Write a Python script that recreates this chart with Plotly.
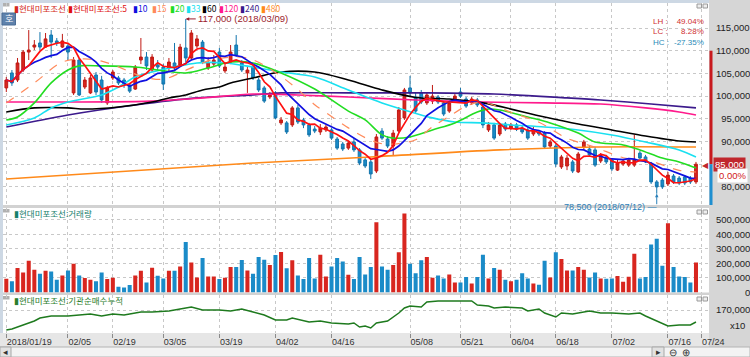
import plotly.graph_objects as go
import pandas as pd

# ---------------- data ----------------
day_idx = list(range(124))  # trading-day index, 2018/01/19 .. 2018/07/23

opens = [101800,105100,103550,105750,109700,110800,111700,110800,113450,112150,
         110800,111050,100700,107950,102000,100700,104650,103550,98500,104000,
         104000,103550,102450,101550,107950,108600,105750,106850,106400,106200,
         107300,106850,110600,108400,111050,111900,106200,107050,109700,105550,
         107500,111250,107300,105100,106400,103550,101800,99800,100700,94100,
         94100,93650,97400,94750,93650,92750,92100,92550,92550,90550,
         89450,88550,89900,88150,85950,85500,83500,92300,90550,89000,
         92300,95200,101800,99800,100700,98500,98900,99800,98500,96700,
         99150,100900,99350,98500,99150,97600,92550,93650,91650,93850,
         92950,93650,92950,92550,91650,92100,91850,89000,89000,84400,
         84600,85500,83300,88800,88350,88150,85700,86600,85950,83700,
         85050,84800,84800,87450,86600,85050,81100,81500,80650,82400,
         81950,82200,81950,81100]
highs = [104200,105750,108400,110150,114550,112350,114100,113900,114550,112800,
         113700,111500,108600,108400,104200,104650,105300,104450,102250,105750,
         104450,104000,102900,106850,112800,109700,109250,107950,107050,108400,
         111700,111500,117000,114550,113450,112350,108600,109050,110600,107050,
         111250,113450,107950,106650,107050,104000,102250,100900,101100,95400,
         94500,97800,98050,95200,94100,93400,93850,93650,92950,91000,
         89900,90100,90750,88550,86350,85950,91650,92950,91200,92550,
         97600,101800,104450,100700,101350,100900,102450,100250,98900,98900,
         100450,101800,99800,99800,99600,98250,94300,94100,94100,94300,
         94100,94100,93400,92950,93200,92550,92300,90350,89450,87050,
         87050,85950,87700,90350,89000,88800,87450,87050,86350,85950,
         86150,86350,91500,87900,87050,85500,81500,81950,83300,82850,
         82400,82600,82400,85500]
lows = [100900,102250,103100,105300,107950,110150,110150,110600,108400,111050,
        110600,107950,100250,100000,101550,100450,100250,98500,98050,103550,
        102450,101800,100700,101350,107050,105750,105300,105750,101350,105300,
        105750,106400,107500,107950,110600,107050,105750,106650,106200,105100,
        107050,108600,105300,100700,103550,100900,98500,99350,94950,93650,
        91650,93200,93850,92950,91000,91850,91450,92100,90350,88150,
        87900,88150,87700,84800,84150,81750,83050,90350,88550,86800,
        91850,94750,100000,96300,98250,98050,98250,98250,95600,96300,
        98700,99600,97400,98050,97600,92950,92100,90350,91200,92300,
        92550,92300,91650,90350,91200,91200,88350,88550,84400,83950,
        83700,83050,83050,88350,86600,84400,85250,85050,83500,83500,
        84600,84400,84400,85950,85250,80650,78500,79550,80200,80650,
        80400,80400,80650,80650]
closes = [103550,102900,107300,109700,110150,111250,110800,112600,111900,111700,
          112150,109700,107950,100250,103550,104000,100900,99150,101800,105300,
          102900,102450,101100,106400,108600,106650,108600,106400,102650,107500,
          106200,110800,108400,113900,112600,107500,107300,107950,106650,106400,
          109700,109050,105750,105750,104000,101350,98900,100250,95200,94750,
          92100,97400,94300,93650,91450,92300,92950,93200,90750,88550,
          88350,89650,88150,85250,84600,82850,91000,90750,89000,91850,
          96950,101350,100700,96700,98700,100250,100000,98700,96050,98500,
          100000,100000,97800,99350,98050,93650,93650,90750,93650,92750,
          93650,92750,92100,90750,92550,91650,88800,89900,85050,86600,
          86350,83500,87250,89900,87050,84800,87050,85500,83950,85250,
          85700,85950,85950,86350,85500,81100,80000,80000,82600,81100,
          80850,80850,81100,85000]
volumes = [94000,78000,168000,138000,218000,156000,129000,149000,145000,87000,
           117000,152000,198000,117000,99000,87000,78000,138000,92000,101000,
           39000,34000,51000,117000,149000,69000,170000,115000,97000,149000,
           149000,179000,347000,207000,103000,237000,110000,110000,92000,101000,
           175000,175000,223000,152000,129000,244000,225000,189000,257000,278000,
           166000,221000,117000,92000,237000,97000,260000,110000,179000,237000,
           214000,122000,92000,244000,124000,175000,483000,179000,156000,189000,
           276000,543000,198000,133000,221000,244000,101000,117000,97000,124000,
           69000,69000,106000,62000,106000,260000,97000,168000,156000,87000,
           78000,87000,133000,97000,62000,53000,218000,103000,276000,230000,
           152000,152000,175000,156000,103000,138000,97000,94000,97000,113000,
           74000,108000,267000,97000,106000,330000,369000,184000,476000,175000,
           110000,106000,69000,207000]

# moving-average lines (day index, value)
ma15_idx = [0,5,10,14,17,20,24,28,32,37,43,48,52,55,58,61,64,67,70,73,76,79,82,85,90,95,100,105,110,115,120,123]
ma15_val = [98500,102900,107500,108200,107700,106450,104400,103700,105700,108100,108400,105200,101450,98100,
            95500,93000,90850,89500,89550,90400,93230,95550,97780,98650,96430,94230,90710,88750,86430,85640,83640,83280]
ma20_idx = [0,2,5,8,11,13,17,23,27,32,36,40,44,49,55,61,64,67,69,72,76,80,84,86,88,93,97,102,105,110,113,117,120,123]
ma20_val = [94750,95400,98500,102900,105750,106650,106650,106400,105750,105100,106200,107500,107300,105100,101550,
            96700,94750,91450,90750,91000,92550,94100,96500,97150,96950,95400,94100,91850,89900,89250,88150,86350,85500,84150]
ma33_idx = [0,5,8,11,17,20,23,26,30,34,39,44,49,55,61,67,71,76,80,85,90,96,102,108,114,120,123]
ma33_val = [93650,95200,97400,98700,100250,102000,104200,105300,106400,107300,107300,106400,105300,104200,101350,
            98500,96950,95200,94300,94100,93650,93200,92550,91450,89900,88150,86600]
ma60_idx = [0,5,11,14,20,26,29,32,35,38,40,44,49,55,61,67,73,79,85,96,102,108,114,120,123]
ma60_val = [96500,97400,97400,97150,97600,98700,99600,100250,101350,102000,102900,104000,105300,105300,103550,
            101350,99700,99350,98500,95400,93850,92550,91200,90100,89900]
ma120_idx = [0,26,35,44,52,61,73,85,96,106,114,120,123]
ma120_val = [98700,98900,99600,100450,100250,99800,99150,98700,98500,98250,97400,96500,95850]
ma240_idx = [0,11,23,34,44,49,61,75,87,100,106,115,123]
ma240_val = [93200,95850,98050,99600,100250,100700,100700,100700,100450,99600,99150,98250,97400]
ma480_idx = [0,44,65,88,105,123]
ma480_val = [81750,85250,86600,88150,88800,88800]

# 기관순매수누적 (x10)
inst_idx = [0,1,3,5,6,8,11,13,15,17,19,21,24,26,29,31,33,35,38,40,42,44,46,48,50,51,54,56,58,61,
            62,63,64,65,66,68,69,70,71,72,74,75,77,81,83,84,86,87,89,92,93,95,96,98,99,101,104,106,108,111,
            113,114,117,118,120,122,123]
inst_val = [130000,132000,140000,148000,154000,158000,158000,160000,162000,158000,162000,160000,166000,166000,
            168000,172000,176000,170000,170000,168000,172000,166000,160000,150000,150000,154000,146000,148000,
            144000,142000,144000,136000,138000,134000,144000,148000,156000,164000,174000,178000,176000,186000,
            188000,188000,188000,180000,178000,174000,176000,174000,168000,172000,164000,156000,164000,162000,
            168000,164000,164000,162000,164000,158000,144000,138000,140000,140000,146000]

date_tick_idx = [0, 11, 19, 28, 38, 48, 58, 72, 81, 90, 98, 108, 118, 124]
date_tick_text = ["2018/01/19", "02/05", "02/19", "03/05", "03/19", "04/02", "04/16",
                  "05/08", "05/21", "06/04", "06/18", "07/02", "07/16", "07/24"]
price_ticks = [80000, 85000, 90000, 95000, 100000, 105000, 110000, 115000]
volume_ticks = [0, 100000, 200000, 300000, 400000, 500000]
inst_ticks = [170000]

high_val, high_day, high_date = 117000, 32, "2018/03/09"
low_val, low_day, low_date = 78500, 116, "2018/07/12"
last_close = 85000
stats = [("LH", "49.04%"), ("LC", "8.28%"), ("HC", "-27.35%")]
name = "현대미포조선"
ma_periods = ["5", "10", "15", "20", "33", "60", "120", "240", "480"]

# ---------------- styling / layout geometry ----------------
W, H = 750, 357
ML, MR, MT, MB = 3, 41, 3, 24
PW, PH = W - ML - MR, H - MT - MB


def px(xp):
    return (xp - ML) / PW


def py(yp):
    return (H - MB - yp) / PH


UP, UP_LINE = "#d8261f", "#c01a14"
DN, DN_LINE = "#1a8bc8", "#1476ad"
NUM_FONT = "Liberation Sans Narrow, Arial Narrow, Liberation Sans, Arial, sans-serif"
KR_FONT = "Noto Sans CJK KR, Noto Sans, sans-serif"
GRID = "#c8c8c8"

ma_colors = {"5": "#ff1010", "10": "#1010e0", "15": "#ff8a5a", "20": "#22dd22", "33": "#19e0f0",
             "60": "#000000", "120": "#ff1a8c", "240": "#3c1a8c", "480": "#ff8a1a"}

fig = go.Figure()

fig.add_trace(go.Candlestick(
    x=day_idx, open=opens, high=highs, low=lows, close=closes,
    increasing=dict(line=dict(color=UP_LINE, width=1), fillcolor=UP),
    decreasing=dict(line=dict(color=DN_LINE, width=1), fillcolor=DN),
    whiskerwidth=0, xaxis="x", yaxis="y", showlegend=False, hoverinfo="skip"))

close_s = pd.Series(closes)
ma5 = close_s.rolling(5, min_periods=1).mean()
ma10 = close_s.rolling(10, min_periods=1).mean()

sparse = [("480", ma480_idx, ma480_val, "solid"), ("240", ma240_idx, ma240_val, "solid"),
          ("120", ma120_idx, ma120_val, "solid"), ("60", ma60_idx, ma60_val, "solid"),
          ("33", ma33_idx, ma33_val, "solid"), ("20", ma20_idx, ma20_val, "solid"),
          ("15", ma15_idx, ma15_val, "dash")]
for key, xs, ys, dash in sparse:
    fig.add_trace(go.Scatter(x=xs, y=ys, mode="lines",
                             line=dict(color=ma_colors[key], width=1.6 if dash == "solid" else 1.2,
                                       shape="spline", smoothing=0.9, dash=dash),
                             xaxis="x", yaxis="y", showlegend=False, hoverinfo="skip"))
fig.add_trace(go.Scatter(x=day_idx, y=ma10, mode="lines", line=dict(color=ma_colors["10"], width=1.7),
                         xaxis="x", yaxis="y", showlegend=False, hoverinfo="skip"))
fig.add_trace(go.Scatter(x=day_idx, y=ma5, mode="lines", line=dict(color=ma_colors["5"], width=1.7),
                         xaxis="x", yaxis="y", showlegend=False, hoverinfo="skip"))

vol_colors = [UP if c >= o else DN for o, c in zip(opens, closes)]
fig.add_trace(go.Bar(x=day_idx, y=volumes, marker=dict(color=vol_colors, line=dict(width=0)),
                     xaxis="x2", yaxis="y2", showlegend=False, hoverinfo="skip"))

fig.add_trace(go.Scatter(x=inst_idx, y=inst_val, mode="lines", line=dict(color="#1e7a1e", width=1.5),
                         xaxis="x3", yaxis="y3", showlegend=False, hoverinfo="skip"))

# axes
x_rng = [-0.59, 125.32]
common_x = dict(range=x_rng, tickvals=date_tick_idx, showgrid=True, gridcolor=GRID, griddash="dot",
                gridwidth=1, zeroline=False, showline=False, fixedrange=True)


def pad_label(v, width, hide=()):
    if v in hide:
        return ""
    s = f"{v:,}"
    digits = sum(ch.isdigit() for ch in s)
    commas = s.count(",")
    wd = sum(ch.isdigit() for ch in f"{width:,}")
    wc = f"{width:,}".count(",")
    return "\u2007" * (wd - digits) + "\u2008" * (wc - commas) + s


tickfont = dict(family=NUM_FONT, size=9.5, color="#222222")
fig.update_layout(
    width=W, height=H, margin=dict(l=ML, r=MR, t=MT, b=MB),
    paper_bgcolor="white", plot_bgcolor="white", bargap=0.28, showlegend=False,
    xaxis=dict(common_x, anchor="y", domain=[0, 1], showticklabels=False, ticks="",
               rangeslider=dict(visible=False)),
    xaxis2=dict(common_x, anchor="y2", domain=[0, 1], showticklabels=False, ticks="", matches="x"),
    xaxis3=dict(common_x, anchor="y3", domain=[0, 1], showticklabels=True, matches="x",
                ticktext=date_tick_text, ticks="outside", ticklen=4, tickcolor="#8a8a8a",
                ticklabelposition="outside right", tickangle=0, automargin=False,
                tickfont=dict(family=NUM_FONT, size=9, color="#333333")),
    yaxis=dict(domain=[py(205), 1], range=[76014, 120507], side="right", anchor="x",
               tickvals=price_ticks,
               ticktext=[pad_label(v, 115000, hide=(last_close,)) for v in price_ticks],
               showgrid=True, gridcolor=GRID, griddash="dot", zeroline=False, ticks="",
               ticklabelstandoff=6, tickfont=tickfont, fixedrange=True, automargin=False),
    yaxis2=dict(domain=[py(292.5), py(208)], range=[0, 581000], side="right", anchor="x2",
                tickvals=volume_ticks, ticktext=[pad_label(v, 500000) for v in volume_ticks],
                showgrid=True, gridcolor=GRID, griddash="dot", zeroline=False, ticks="",
                ticklabelstandoff=6, tickfont=tickfont, fixedrange=True, automargin=False),
    yaxis3=dict(domain=[0, py(295)], range=[124000, 200000], side="right", anchor="x3",
                tickvals=inst_ticks, ticktext=[pad_label(v, 170000) for v in inst_ticks],
                showgrid=True, gridcolor=GRID, griddash="dot", zeroline=False, ticks="",
                ticklabelstandoff=6, tickfont=tickfont, fixedrange=True, automargin=False),
)

shapes = []


def rect(x0, y0, x1, y1, fill, line=None, layer="below"):
    shapes.append(dict(type="rect", xref="paper", yref="paper", x0=px(x0), x1=px(x1),
                       y0=py(y1), y1=py(y0), fillcolor=fill,
                       line=dict(width=0 if line is None else 1, color=line or fill), layer=layer))


rect(709, 0, 750, 357, "#d6d6d6")                # right axis panel
rect(0, 0, 709, 3, "#cdd8e4")                    # top band
rect(0, 0, 3, 347, "#cdd8e4")                    # left band
rect(3, 205, 709, 208, "#d2d2d2")                # pane separators
rect(3, 292.5, 709, 295, "#d2d2d2")
rect(0, 333, 709, 347, "#e6e6e6")                # date strip
rect(0, 347, 750, 357, "#f3f3f3", line="#b4b4b4")  # scroll bar row
rect(0, 347, 11, 357, "#e2e2e2", line="#a8a8a8")
rect(652, 347, 664, 357, "#e2e2e2", line="#a8a8a8")
for yy in (3, 209, 296):                          # pane grip icons
    rect(3, yy, 9.5, yy + 3.5, "#b0b0b0")
    rect(697, yy + 1, 701.5, yy + 5, "#eeeeee", line="#9a9a9a", layer="above")
    rect(703, yy + 1, 707.5, yy + 5, "#eeeeee", line="#9a9a9a", layer="above")
rect(2, 13, 15.5, 25, "#5f82ac", line="#4b6d96", layer="above")   # 호 button

# current-price range bar in the axis panel
shapes.append(dict(type="line", xref="paper", yref="y", x0=px(711), x1=px(711), y0=last_close, y1=110000,
                   line=dict(color="#c8191e", width=3)))
shapes.append(dict(type="line", xref="paper", yref="y", x0=px(711), x1=px(711), y0=76014, y1=last_close,
                   line=dict(color="#1f8fd0", width=3)))
fig.update_layout(shapes=shapes)

ann = []


def text(xp, yp, t, color, size, family, xanchor="left", yanchor="middle", **kw):
    ann.append(dict(xref="paper", yref="paper", x=px(xp), y=py(yp), text=t, showarrow=False,
                    font=dict(color=color, size=size, family=family), xanchor=xanchor,
                    yanchor=yanchor, **kw))


# header legend of main pane
header = [("▮" + name, "#d42a20", 12), ("▮" + name + ":" + ma_periods[0], "#e01010", 66)]
hx = [131, 150, 168, 184, 200, 217, 238, 259]
for p, xx in zip(ma_periods[1:], hx):
    header.append(("▮" + p, ma_colors[p], xx))
for t, c, xx in header:
    text(xx, 7.5, t, c, 8.5, KR_FONT)

text(8.75, 19, "호", "white", 9, KR_FONT, xanchor="center")

# LH/LC/HC box (two multi-line columns)
stat_cols = ["#2a8ab8" if v.startswith("-") else "#d03030" for _, v in stats]
lab_txt = "<br>".join(f"<span style='color:{c}'>{lab} :</span>" for (lab, _), c in zip(stats, stat_cols))
val_txt = "<br>".join(f"<span style='color:{c}'>{v}</span>" for (_, v), c in zip(stats, stat_cols))
text(652, 32, lab_txt, "#d03030", 8, NUM_FONT, align="left", borderpad=0)
text(705, 32, val_txt, "#d03030", 8, NUM_FONT, xanchor="right", align="right", borderpad=0)

# high / low markers
ann.append(dict(x=high_day, y=high_val, xref="x", yref="y", text=f"{high_val:,} ({high_date})",
                showarrow=True, arrowhead=2, arrowsize=0.7, arrowwidth=1, arrowcolor="#9c1c2c",
                ax=10, ay=0, xanchor="left", font=dict(color="#9c1c2c", size=9.5, family=NUM_FONT)))
ann.append(dict(x=low_day, y=low_val, xref="x", yref="y", text="", showarrow=True, arrowhead=2,
                arrowsize=0.7, arrowwidth=1, arrowcolor="#2a80b9", ax=0, ay=12))
ann.append(dict(x=low_day, y=low_val, xref="x", yref="y", text=f"{low_val:,} ({low_date}) —",
                showarrow=False, xanchor="right", yanchor="top", xshift=2, yshift=-6,
                font=dict(color="#2a80b9", size=9, family=NUM_FONT)))

# current price tag
ann.append(dict(xref="paper", yref="y", x=px(713), y=last_close, text=f"{last_close:,}",
                showarrow=False, xanchor="left", yanchor="middle", bgcolor="#c0272d", borderpad=1,
                font=dict(color="white", size=9.5, family=NUM_FONT)))
ann.append(dict(xref="paper", yref="y", x=px(711), y=last_close, text="◀", showarrow=False,
                xanchor="right", yanchor="middle", font=dict(color="#c0272d", size=8)))
ann.append(dict(xref="paper", yref="y", x=px(748), y=last_close, yshift=-11, text="0.00%",
                showarrow=False, xanchor="right", yanchor="middle", bgcolor="white",
                font=dict(color="#d02020", size=9.5, family=NUM_FONT)))

# sub-pane headers
text(12, 213, "▮" + name + ":거래량", "#17806c", 8.5, KR_FONT)
text(12, 300, "▮" + name + ":기관순매수누적", "#2b7d2b", 8.5, KR_FONT)
text(747, 325, "x10", "#222222", 9.5, NUM_FONT, xanchor="right")

# scroll bar glyphs
text(5.5, 352, "◂", "#333333", 9, NUM_FONT, xanchor="center")
text(658, 352, "▸", "#333333", 9, NUM_FONT, xanchor="center")
text(673, 352, "⊖", "#333333", 10, NUM_FONT, xanchor="center")
text(686, 352, "⊕", "#333333", 10, NUM_FONT, xanchor="center")

fig.update_layout(annotations=ann)

fig.write_html("out.html", config={"displayModeBar": False, "staticPlot": True},
               post_script="document.body.style.margin='0';")
